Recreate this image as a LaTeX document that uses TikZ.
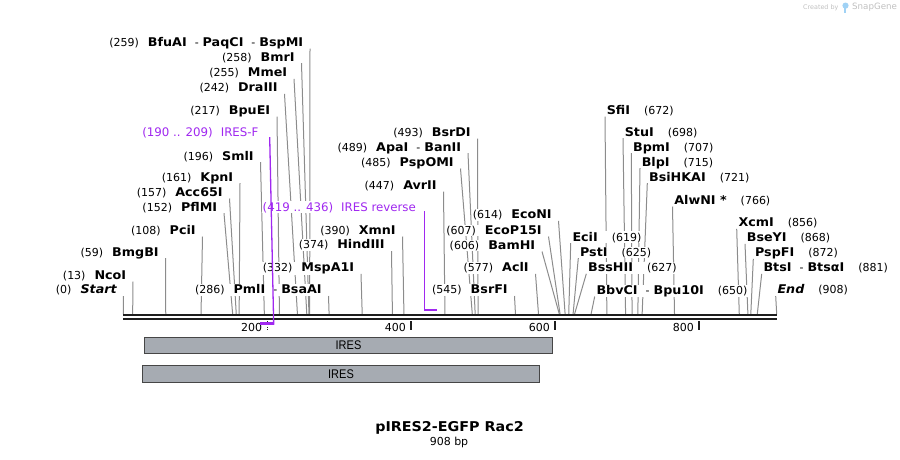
\documentclass[tikz,border=0pt]{standalone}
\usepackage{fontspec}
\setmainfont{DejaVu Sans}[BoldFeatures={FakeStretch=1.06},BoldItalicFeatures={FakeStretch=1.06}]
\newfontfamily\featfont{Liberation Sans}[FakeStretch=0.88]
\usetikzlibrary{calc}
\pgfdeclarelayer{bg}
\pgfsetlayers{bg,main}
\definecolor{linegray}{RGB}{140,140,140}
\definecolor{prim}{RGB}{160,40,240}
\definecolor{featfill}{RGB}{166,171,178}
\definecolor{featdraw}{RGB}{70,70,70}
\definecolor{seqcol}{RGB}{30,30,30}
\definecolor{wmgray}{RGB}{192,192,192}
\definecolor{wmblue}{RGB}{160,210,245}
\newcommand\fsz[1]{\fontsize{#1}{#1}\selectfont}
\newcommand\B[1]{{\fsz{12}\bfseries #1}}
\newcommand\dsh{\hspace{8pt}-\hspace{4pt}}
\newcommand\XP[1]{123.3+0.7196*#1}
\newcommand\labL[6]{%
  \coordinate (s#1) at ({\XP{#6}},314.3);
  \node[lab,anchor=base east] (n#1) at (#4,{#5+4.3}) {(#2)\hspace{9pt}#3};
  \begin{pgfonlayer}{bg}\draw[conn] ([shift={(6,2.2)}]n#1.base east) -- (s#1);\end{pgfonlayer}}
\newcommand\labR[6]{%
  \coordinate (s#1) at ({\XP{#6}},314.3);
  \node[lab,anchor=base west] (n#1) at (#4,{#5+4.3}) {#3\hspace{14pt}(#2)};
  \begin{pgfonlayer}{bg}\draw[conn] ([shift={(-1,2.2)}]n#1.base west) -- (s#1);\end{pgfonlayer}}
\begin{document}
\begin{tikzpicture}[x=1pt,y=-1pt,
  conn/.style={draw=linegray,line width=1pt},
  lab/.style={fill=white,inner sep=0.6pt,font=\fsz{11}},
  seqline/.style={draw=seqcol,line width=2pt},
  ticker/.style={draw=seqcol,line width=2pt},
  primv/.style={draw=prim,line width=1.3pt},
  primh/.style={draw=prim,line width=2.5pt},
  feat/.style={draw=featdraw,fill=featfill,line width=1pt,font=\featfont\fsz{12.5},inner sep=0pt}]
\path[use as bounding box] (0,0) rectangle (900,459);

% watermark
\node[anchor=west,inner sep=0,text=wmgray,font=\fsz{6.4}] (wm1) at (803,7.5) {Created by};
\fill[wmblue] (843.5,2.5) rectangle (845.8,13);
\fill[wmblue] (845.5,5.6) circle (3.1);
\node[anchor=west,inner sep=0,text=wmgray,font=\fsz{8.7}] (wm2) at (852,7.5) {SnapGene};

% sequence
\coordinate (seqL) at (123.3,315.3);
\coordinate (seqR) at (776.7,315.3);
\draw[seqline] (seqL) -- (seqR);
\draw[seqline] ([shift={(0,4)}]seqL) -- ([shift={(0,4)}]seqR);

% ruler
\foreach \v in {400,600,800}{
  \coordinate (k\v) at ({\XP{\v}},321);
  \draw[ticker] (k\v) -- ++(0,8.5);
  \node[anchor=base east,inner sep=0,font=\fsz{11}] (r\v) at ([shift={(-5,10.5)}]k\v) {\v};
}
\coordinate (k200) at ({\XP{200}},321);
\draw[draw=seqcol,line width=1.3pt,dash pattern=on 1.4pt off 1.4pt] (k200) -- ++(0,8.5);
\node[anchor=base east,inner sep=0,font=\fsz{11}] (r200) at ([shift={(-5,10.5)}]k200) {200};

% left-side labels
\labL{a}{259}{\B{BfuAI}\dsh\B{PaqCI}\dsh\B{BspMI}}{304}{42}{259}
\labL{b}{258}{\B{BmrI}}{295.5}{56.7}{258}
\labL{c}{255}{\B{MmeI}}{288}{72.3}{255}
\labL{d}{242}{\B{DraIII}}{278.5}{87.3}{242}
\labL{e}{217}{\B{BpuEI}}{271}{110}{217}
\labL{f}{196}{\B{SmlI}}{254.5}{155.7}{196}
\labL{g}{161}{\B{KpnI}}{234}{176.7}{161}
\labL{h}{157}{\B{Acc65I}}{223.5}{192}{157}
\labL{i}{152}{\B{PflMI}}{218}{206.7}{152}
\labL{j}{108}{\B{PciI}}{196.5}{230}{108}
\labL{k}{59}{\B{BmgBI}}{159.5}{251.7}{59}
\labL{l}{13}{\B{NcoI}}{127}{275}{13}
\labL{m}{0}{\B{\itshape Start}}{117.5}{289.5}{0}
\labL{n}{286}{\B{PmlI}\dsh\B{BsaAI}}{322.5}{289.5}{286}
\labL{o}{332}{\B{MspA1I}}{355}{267.3}{332}
\labL{p}{374}{\B{HindIII}}{385.5}{244.5}{374}
\labL{q}{390}{\B{XmnI}}{396.5}{230}{390}
\labL{r}{447}{\B{AvrII}}{437.5}{185}{447}
\labL{s}{485}{\B{PspOMI}}{454.5}{162}{485}
\labL{t}{489}{\B{ApaI}\dsh\B{BanII}}{462}{146.7}{489}
\labL{u}{493}{\B{BsrDI}}{471.5}{132}{493}
\labL{v}{545}{\B{BsrFI}}{508.5}{289.5}{545}
\labL{w}{577}{\B{AclI}}{529.5}{267.3}{577}
\labL{x}{606}{\B{BamHI}}{536}{245}{606}
\labL{y}{607}{\B{EcoP15I}}{542.5}{230}{607}
\labL{z}{614}{\B{EcoNI}}{552.5}{214.3}{614}

% right-side labels
\labR{A}{672}{\B{SfiI}}{606}{110}{672}
\labR{B}{698}{\B{StuI}}{624}{131.7}{698}
\labR{C}{707}{\B{BpmI}}{632.3}{146.7}{707}
\labR{D}{715}{\B{BlpI}}{641}{161.7}{715}
\labR{E}{721}{\B{BsiHKAI}}{648.3}{176.7}{721}
\labR{F}{766}{\B{AlwNI *}}{673.5}{200}{766}
\labR{G}{619}{\B{EciI}}{571.7}{236.7}{619}
\labR{H}{625}{\B{PstI}}{579.3}{251.7}{625}
\labR{I}{627}{\B{BssHII}}{587.3}{267.3}{627}
\labR{J}{650}{\B{BbvCI}\dsh\B{Bpu10I}}{595.7}{290}{650}
\labR{K}{856}{\B{XcmI}}{737.7}{222.3}{856}
\labR{L}{868}{\B{BseYI}}{746}{237.3}{868}
\labR{M}{872}{\B{PspFI}}{754.3}{252.3}{872}
\labR{N}{881}{\B{BtsI}\dsh\B{BtsαI}}{762.7}{267.3}{881}
\labR{O}{908}{\B{\itshape End}}{776.7}{289.5}{908}

% primers
\node[lab,text=prim,anchor=base east,font=\fsz{11.8}] (primF) at (259.3,136.6) {(190 .. 209)\hspace{8pt}IRES-F};
\node[lab,text=prim,anchor=base east,font=\fsz{11.8}] (primR) at (416.7,211) {(419 .. 436)\hspace{8pt}IRES reverse};
\coordinate (F5) at ({\XP{190}},323.5);
\coordinate (F3) at ({\XP{209}},323.5);
\draw[primv] ([shift={(10.4,0.5)}]primF.base east) -- ([shift={(0,1.2)}]F3);
\draw[primh] ([xshift=0.65pt]F3) -- (F5);
\coordinate (R5) at ({\XP{419}},310);
\coordinate (R3) at ({\XP{436}},310);
\draw[primv] (primR.base east -| R5) -- ([shift={(0,1.2)}]R5);
\draw[primh] ([xshift=-0.65pt]R5) -- (R3);

% features
\node[feat,minimum width=408pt,minimum height=16.5pt] (ires1) at (348.5,345.25) {IRES};
\node[feat,minimum width=397pt,minimum height=16.5pt] (ires2) at (341,373.75) {IRES};

% title
\node[inner sep=0,font=\fsz{13.5}\bfseries] (title) at (449.5,428) {pIRES2-EGFP Rac2};
\node[inner sep=0,font=\fsz{11}] (len) at (449,442.5) {908 bp};
\end{tikzpicture}
\end{document}
